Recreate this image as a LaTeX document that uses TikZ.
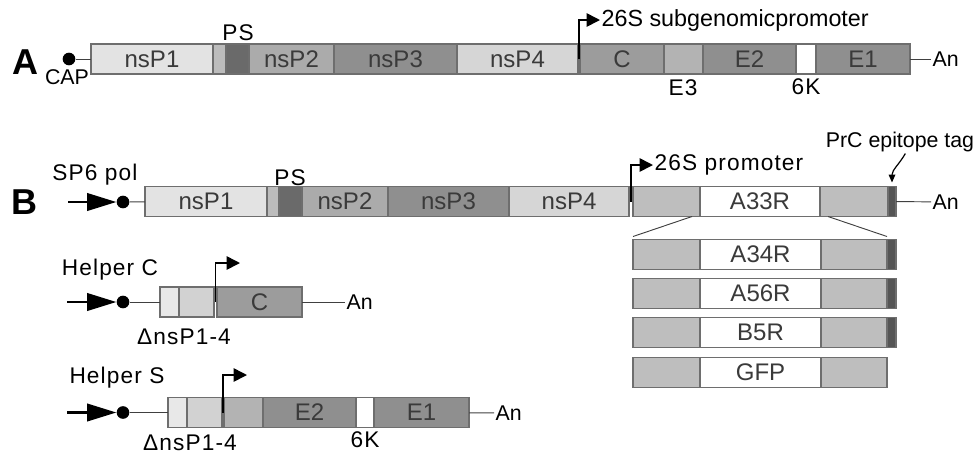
\documentclass[tikz,border=0pt]{standalone}
\usepackage{fontspec}
\setmainfont{Liberation Sans}
\usepackage{xcolor}
\usetikzlibrary{positioning,arrows.meta}

\definecolor{nsone}{HTML}{E3E3E3}
\definecolor{spacer}{HTML}{BCBCBC}
\definecolor{psdark}{HTML}{6A6A6A}
\definecolor{nstwo}{HTML}{ABABAB}
\definecolor{nsthree}{HTML}{8F8F8F}
\definecolor{nsfour}{HTML}{D6D6D6}
\definecolor{capsid}{HTML}{9C9C9C}
\definecolor{ethree}{HTML}{B3B3B3}
\definecolor{envel}{HTML}{8F8F8F}
\definecolor{flank}{HTML}{BEBEBE}
\definecolor{tagdark}{HTML}{555555}
\definecolor{helpa}{HTML}{E8E8E8}
\definecolor{helpb}{HTML}{D2D2D2}
\definecolor{segline}{HTML}{6E6E6E}
\definecolor{boxtext}{HTML}{3A3A3A}

\begin{document}
\begin{tikzpicture}[x=0.75pt, y=-0.75pt,
        seg/.style={draw=segline, line width=0.9pt, fill=#1, inner sep=0pt, outer sep=0pt,
            minimum height=22.5pt, anchor=west, text=boxtext, font=\fontsize{18}{18}\selectfont},
        len/.style={minimum width=#1*0.75pt},
        lab/.style={inner sep=1pt, font=\fontsize{17}{18}\selectfont\addfontfeature{LetterSpace=5}},
        small/.style={inner sep=1pt, font=\fontsize{16}{17}\selectfont},
        panel/.style={inner sep=0pt, font=\fontsize{27}{27}\bfseries\selectfont},
        capdot/.style={circle, fill=black, inner sep=0pt, minimum size=9.5pt},
        prom/.style={line width=1.2pt, -{Triangle[length=10pt, width=10pt]}},
        pol/.style={line width=2.2pt, -{Triangle[length=22pt, width=13pt]}},
        tail/.style={draw=black!75, line width=0.7pt}
    ]
        \useasboundingbox (0,0) rectangle (974,455);

        % --- A: genome ---
        \node[panel] (labA) at (25,62) {A};
        \node[capdot] (capA) at (69,59) {};
        \node[small] (capT) at (67,77) {CAP};
        \node[seg=nsone, len=122] (a1) at (91,59) {nsP1};
        \node[seg=spacer, len=13, right=0pt of a1] (a2) {};
        \node[seg=psdark, len=23, right=0pt of a2] (a3) {};
        \node[seg=nstwo, len=85, right=0pt of a3] (a4) {nsP2};
        \node[seg=nsthree, len=123, right=0pt of a4] (a5) {nsP3};
        \node[seg=nsfour, len=121, right=0pt of a5] (a6) {nsP4};
        \node[seg=capsid, len=84, right=1.5pt of a6] (a7) {C};
        \node[seg=ethree, len=39, right=0pt of a7] (a8) {};
        \node[seg=envel, len=93, right=0pt of a8] (a9) {E2};
        \node[seg=white, len=20, right=0pt of a9] (a10) {};
        \node[seg=envel, len=94, right=0pt of a10] (a11) {E1};
        \node[small, anchor=west] (anA) at (931,59) {An};
        \node[lab] (psA) at (238,33) {PS};
        \node[lab] (e3A) at (683,88) {E3};
        \node[lab] (k6A) at (806,87) {6K};
        \node[lab, font=\fontsize{17.5}{18}\selectfont, anchor=west] (promA) at (600,20) {26S subgenomicpromoter};
        \draw[tail] (capA) -- (a1);
        \draw[tail] (a11) -- (anA);
        \draw[prom] ([xshift=0.75pt]a6.east) |- (promA);

        % --- B: replicon ---
        \node[panel] (labB) at (24,202) {B};
        \node[lab] (spT) at (95,175) {SP6 pol};
        \coordinate (spB) at (68,202);
        \node[capdot] (dotB) at (123,202) {};
        \node[seg=nsone, len=122] (b1) at (145,201.5) {nsP1};
        \node[seg=spacer, len=12, right=0pt of b1] (b2) {};
        \node[seg=psdark, len=23, right=0pt of b2] (b3) {};
        \node[seg=nstwo, len=86, right=0pt of b3] (b4) {nsP2};
        \node[seg=nsthree, len=121, right=0pt of b4] (b5) {nsP3};
        \node[seg=nsfour, len=120, right=0pt of b5] (b6) {nsP4};
        \node[seg=flank, len=67, right=3pt of b6] (b7) {};
        \node[seg=white, len=120, right=0pt of b7] (b8) {A33R};
        \node[seg=flank, len=68, right=0pt of b8] (b9) {};
        \node[seg=tagdark, len=8, right=0pt of b9] (b10) {};
        \node[small, anchor=west] (anB) at (931,202) {An};
        \node[lab] (psB) at (290,178) {PS};
        \node[lab, anchor=west] (promB) at (653,165) {26S promoter};
        \node[small] (prc) at (900,142) {PrC epitope tag};
        \draw[pol] (spB) -- (dotB);
        \draw[tail] (dotB) -- (b1);
        \draw[tail] (b10) -- (anB);
        \draw[prom] ([xshift=1.5pt]b6.east) |- (promB);
        \draw[line width=0.9pt, -{Triangle[length=6pt, width=5pt]}]
            ([xshift=4pt]prc.south) to[out=-120, in=90] ([yshift=3pt]b10.north);

        % --- inserts ---
        \node[seg=flank, len=67] (c1) at (633,254.5) {};
        \node[seg=white, len=121, right=0pt of c1] (c2) {A34R};
        \node[seg=flank, len=66, right=0pt of c2] (c3) {};
        \node[seg=tagdark, len=9, right=0pt of c3] (c4) {};
        \node[seg=flank, len=67] (d1) at (633,293.5) {};
        \node[seg=white, len=121, right=0pt of d1] (d2) {A56R};
        \node[seg=flank, len=66, right=0pt of d2] (d3) {};
        \node[seg=tagdark, len=9, right=0pt of d3] (d4) {};
        \node[seg=flank, len=67] (e1) at (633,332.5) {};
        \node[seg=white, len=121, right=0pt of e1] (e2) {B5R};
        \node[seg=flank, len=66, right=0pt of e2] (e3) {};
        \node[seg=tagdark, len=9, right=0pt of e3] (e4) {};
        \node[seg=flank, len=67] (f1) at (633,372.5) {};
        \node[seg=white, len=121, right=0pt of f1] (f2) {GFP};
        \node[seg=flank, len=66, right=0pt of f2] (f3) {};
        \draw[tail] ([xshift=-6pt]b8.south west) -- ([yshift=2.25pt]c1.north west);
        \draw[tail] ([xshift=6pt]b9.south west) -- ([yshift=2.25pt]c3.north east);

        % --- Helper C ---
        \node[lab] (hcT) at (110,270) {Helper C};
        \coordinate (spC) at (67,302);
        \node[capdot] (dotC) at (123,302) {};
        \node[seg=helpa, len=19] (h1) at (160,302) {};
        \node[seg=helpb, len=35, right=0pt of h1] (h2) {};
        \node[seg=capsid, len=85, right=2.25pt of h2] (h3) {C};
        \node[small, anchor=west] (anC) at (345,302) {An};
        \node[lab] (delC) at (184,337) {ΔnsP1-4};
        \coordinate (hcP) at (240,263);
        \draw[pol] (spC) -- (dotC);
        \draw[tail] (dotC) -- (h1);
        \draw[tail] (h3) -- (anC);
        \draw[prom] ([xshift=1.1pt]h2.east) |- (hcP);

        % --- Helper S ---
        \node[lab] (hsT) at (117,378) {Helper S};
        \coordinate (spS) at (67,412.5);
        \node[capdot] (dotS) at (123,412.5) {};
        \node[seg=helpa, len=19] (s1) at (168,412.5) {};
        \node[seg=helpb, len=35, right=0pt of s1] (s2) {};
        \node[seg=ethree, len=39, right=1.5pt of s2] (s3) {};
        \node[seg=envel, len=93, right=0pt of s3] (s4) {E2};
        \node[seg=white, len=18, right=0pt of s4] (s5) {};
        \node[seg=envel, len=95, right=0pt of s5] (s6) {E1};
        \node[small, anchor=west] (anS) at (494,413) {An};
        \node[lab] (delS) at (190,443) {ΔnsP1-4};
        \node[lab] (k6S) at (365,440) {6K};
        \coordinate (hsP) at (247,375);
        \draw[pol] (spS) -- (dotS);
        \draw[tail] (dotS) -- (s1);
        \draw[tail] (s6) -- (anS);
        \draw[prom] ([xshift=0.75pt]s2.east) |- (hsP);
    \end{tikzpicture}
\end{document}
